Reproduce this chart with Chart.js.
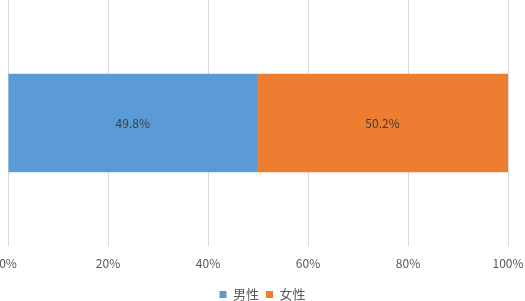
<!DOCTYPE html>
<html lang="zh">
<head>
    <meta charset="UTF-8">
    <title>性别比例</title>
    <script src="https://cdn.jsdelivr.net/npm/chart.js"></script>
    <style>
        html, body { margin: 0; padding: 0; background: #fff; }
        #box { position: relative; width: 525px; height: 301px; }
    </style>
</head>
<body>
    <div id="box">
        <canvas id="myChart"></canvas>
    </div>

<script>
const categorias = [''];
const serieNomes = ['男性', '女性'];
const masculino = [49.8];
const feminino = [50.2];
const cores = ['#5b9bd5', '#ed7d31'];
const ticksX = [0, 20, 40, 60, 80, 100];

const fonte = '"Noto Sans CJK SC", "Noto Sans", sans-serif';

// escreve o valor no meio de cada barra
const rotulos = {
    id: 'rotulos',
    afterDatasetsDraw(chart) {
        const ctx = chart.ctx;
        ctx.save();
        ctx.font = '12px ' + fonte;
        ctx.fillStyle = '#404040';
        ctx.textAlign = 'center';
        ctx.textBaseline = 'middle';
        chart.data.datasets.forEach((ds, i) => {
            chart.getDatasetMeta(i).data.forEach((bar, j) => {
                const p = bar.getCenterPoint();
                ctx.fillText(ds.data[j].toFixed(1) + '%', p.x, p.y);
            });
        });
        ctx.restore();
    }
};

function gerarGrafico() {
    const ctx = document.getElementById('myChart').getContext('2d');
    new Chart(ctx, {
        type: 'bar',
        data: {
            labels: categorias,
            datasets: [
                { label: serieNomes[0], data: masculino, backgroundColor: cores[0] },
                { label: serieNomes[1], data: feminino, backgroundColor: cores[1] }
            ]
        },
        options: {
            indexAxis: 'y',
            responsive: true,
            maintainAspectRatio: false,
            animation: false,
            layout: { padding: { left: 8, right: 8, top: 0, bottom: -10 } },
            datasets: { bar: { categoryPercentage: 0.4, barPercentage: 1 } },
            plugins: {
                legend: {
                    position: 'bottom',
                    labels: {
                        boxWidth: 7,
                        boxHeight: 7,
                        padding: 7,
                        color: '#595959',
                        font: { family: fonte, size: 13 }
                    }
                },
                tooltip: { enabled: false }
            },
            scales: {
                x: {
                    stacked: true,
                    min: 0,
                    max: 100,
                    afterBuildTicks: (s) => { s.ticks = ticksX.map(v => ({ value: v })); },
                    afterFit: (s) => { s.paddingLeft = 0; s.paddingRight = 17; },
                    border: { display: false },
                    grid: { color: '#d9d9d9', drawTicks: false },
                    ticks: {
                        padding: 0,
                        color: '#595959',
                        font: { family: fonte, size: 12, lineHeight: '35px' },
                        maxRotation: 0,
                        callback: (v) => v + '%'
                    }
                },
                y: {
                    stacked: true,
                    display: false
                }
            }
        },
        plugins: [rotulos]
    });
}

window.onload = function () {
    gerarGrafico();
};
</script>
</body>
</html>
